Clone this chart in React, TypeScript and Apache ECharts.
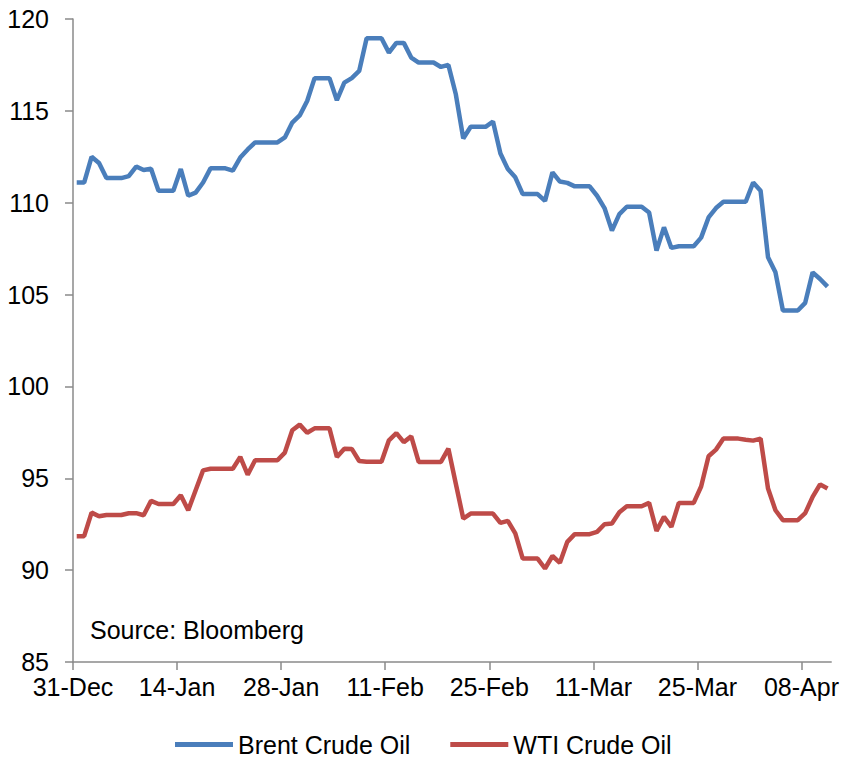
import React, { useEffect, useRef } from "react";
import * as echarts from "echarts";

const dates: string[] = [
  "31-Dec",
  "01-Jan", "02-Jan", "03-Jan", "04-Jan", "05-Jan", "06-Jan", "07-Jan", "08-Jan", "09-Jan", "10-Jan",
  "11-Jan", "12-Jan", "13-Jan", "14-Jan", "15-Jan", "16-Jan", "17-Jan", "18-Jan", "19-Jan", "20-Jan",
  "21-Jan", "22-Jan", "23-Jan", "24-Jan", "25-Jan", "26-Jan", "27-Jan", "28-Jan", "29-Jan", "30-Jan", "31-Jan",
  "01-Feb", "02-Feb", "03-Feb", "04-Feb", "05-Feb", "06-Feb", "07-Feb", "08-Feb", "09-Feb", "10-Feb",
  "11-Feb", "12-Feb", "13-Feb", "14-Feb", "15-Feb", "16-Feb", "17-Feb", "18-Feb", "19-Feb", "20-Feb",
  "21-Feb", "22-Feb", "23-Feb", "24-Feb", "25-Feb", "26-Feb", "27-Feb", "28-Feb",
  "01-Mar", "02-Mar", "03-Mar", "04-Mar", "05-Mar", "06-Mar", "07-Mar", "08-Mar", "09-Mar", "10-Mar",
  "11-Mar", "12-Mar", "13-Mar", "14-Mar", "15-Mar", "16-Mar", "17-Mar", "18-Mar", "19-Mar", "20-Mar",
  "21-Mar", "22-Mar", "23-Mar", "24-Mar", "25-Mar", "26-Mar", "27-Mar", "28-Mar", "29-Mar", "30-Mar", "31-Mar",
  "01-Apr", "02-Apr", "03-Apr", "04-Apr", "05-Apr", "06-Apr", "07-Apr", "08-Apr", "09-Apr", "10-Apr", "11-Apr",
];

const tickLabels: string[] = ["31-Dec", "14-Jan", "28-Jan", "11-Feb", "25-Feb", "11-Mar", "25-Mar", "08-Apr"];

const brent: number[] = [
  111.1, 111.1, 112.5, 112.16, 111.34, 111.34, 111.34, 111.45, 111.97, 111.78,
  111.85, 110.65, 110.65, 110.65, 111.83, 110.38, 110.55, 111.1, 111.87, 111.87,
  111.87, 111.75, 112.46, 112.9, 113.28, 113.28, 113.28, 113.28, 113.55, 114.36,
  114.75, 115.54, 116.78, 116.78, 116.78, 115.58, 116.54, 116.78, 117.17, 118.95,
  118.95, 118.95, 118.17, 118.7, 118.7, 117.9, 117.63, 117.63, 117.63, 117.39,
  117.5, 115.9, 113.5, 114.13, 114.13, 114.13, 114.42, 112.68, 111.83, 111.38,
  110.47, 110.47, 110.47, 110.1, 111.65, 111.15, 111.08, 110.89, 110.89, 110.89,
  110.38, 109.71, 108.48, 109.38, 109.78, 109.78, 109.78, 109.47, 107.39, 108.66,
  107.54, 107.63, 107.63, 107.63, 108.1, 109.2, 109.71, 110.05, 110.05, 110.05,
  110.05, 111.1, 110.65, 107.03, 106.21, 104.13, 104.13, 104.13, 104.55, 106.21,
  105.85, 105.43,
];

const wti: number[] = [
  91.85, 91.85, 93.13, 92.93, 93.0, 93.0, 93.0, 93.1, 93.1, 92.99,
  93.77, 93.6, 93.6, 93.6, 94.08, 93.26, 94.35, 95.43, 95.52, 95.52,
  95.52, 95.52, 96.16, 95.2, 95.98, 95.98, 95.98, 95.98, 96.4, 97.61,
  97.92, 97.48, 97.72, 97.72, 97.72, 96.16, 96.61, 96.6, 95.94, 95.9,
  95.9, 95.9, 97.07, 97.46, 96.97, 97.28, 95.89, 95.89, 95.89, 95.89,
  96.61, 94.7, 92.81, 93.08, 93.08, 93.08, 93.08, 92.57, 92.68, 92.0,
  90.63, 90.63, 90.63, 90.09, 90.77, 90.4, 91.54, 91.96, 91.96, 91.96,
  92.08, 92.5, 92.54, 93.15, 93.48, 93.48, 93.48, 93.66, 92.14, 92.9,
  92.36, 93.66, 93.66, 93.66, 94.55, 96.2, 96.56, 97.16, 97.16, 97.16,
  97.1, 97.05, 97.16, 94.44, 93.26, 92.72, 92.72, 92.72, 93.1, 93.99,
  94.67, 94.44,
];

const seriesNames: string[] = ["Brent Crude Oil", "WTI Crude Oil"];
const seriesColors: string[] = ["#4A7EBB", "#BE4B48"];
const sourceText = "Source: Bloomberg";

const FONT = "'Liberation Sans', Arial, sans-serif";
const AXIS_COLOR = "#8a8a8a";

export default function App() {
  const ref = useRef<HTMLDivElement>(null);

  useEffect(() => {
    if (!ref.current) return;
    document.body.style.margin = "0";
    const chart = echarts.init(ref.current, undefined, { renderer: "svg" });
    const tickIdx = tickLabels.map((l) => dates.indexOf(l));
    // Daily slots: each day's value sits in the middle of its day slot (as in the source chart)
    const toPoints = (vals: number[]) => vals.map((v, i) => [i + 0.5, v]);

    chart.setOption({
      animation: false,
      backgroundColor: "#ffffff",
      grid: { left: 73, right: 10, top: 19, bottom: 96, containLabel: false },
      xAxis: {
        type: "value",
        min: 0,
        max: dates.length,
        axisLine: { show: true, onZero: false, lineStyle: { color: AXIS_COLOR, width: 1.5 } },
        axisTick: {
          show: true,
          length: 8,
          customValues: tickIdx,
          lineStyle: { color: AXIS_COLOR, width: 1.5 },
        },
        axisLabel: {
          customValues: tickIdx,
          formatter: (v: number) => dates[Math.round(v)] ?? "",
          color: "#000",
          fontSize: 25,
          fontFamily: FONT,
          margin: 12,
        },
        splitLine: { show: false },
      },
      yAxis: {
        type: "value",
        min: 85,
        max: 120,
        interval: 5,
        axisLine: { show: true, onZero: false, lineStyle: { color: AXIS_COLOR, width: 1.5 } },
        axisTick: { show: true, length: 8, lineStyle: { color: AXIS_COLOR, width: 1.5 } },
        axisLabel: { color: "#000", fontSize: 25, fontFamily: FONT, margin: 24 },
        splitLine: { show: false },
      },
      legend: {
        data: seriesNames,
        left: 170,
        top: 727,
        icon: "rect",
        itemWidth: 58,
        itemHeight: 5,
        itemGap: 40,
        textStyle: { color: "#000", fontSize: 25, fontFamily: FONT },
      },
      graphic: [
        {
          type: "text",
          left: 90,
          top: 617,
          style: { text: sourceText, fill: "#000", font: `25px ${FONT}` },
        },
      ],
      series: [
        {
          name: seriesNames[0],
          type: "line",
          data: toPoints(brent),
          showSymbol: false,
          symbol: "none",
          lineStyle: { color: seriesColors[0], width: 4.5 },
          itemStyle: { color: seriesColors[0] },
        },
        {
          name: seriesNames[1],
          type: "line",
          data: toPoints(wti),
          showSymbol: false,
          symbol: "none",
          lineStyle: { color: seriesColors[1], width: 4.5 },
          itemStyle: { color: seriesColors[1] },
        },
      ],
    });
    return () => chart.dispose();
  }, []);

  return (
    <div
      ref={ref}
      style={{ position: "absolute", left: 0, top: 0, width: 842, height: 758 }}
    />
  );
}
